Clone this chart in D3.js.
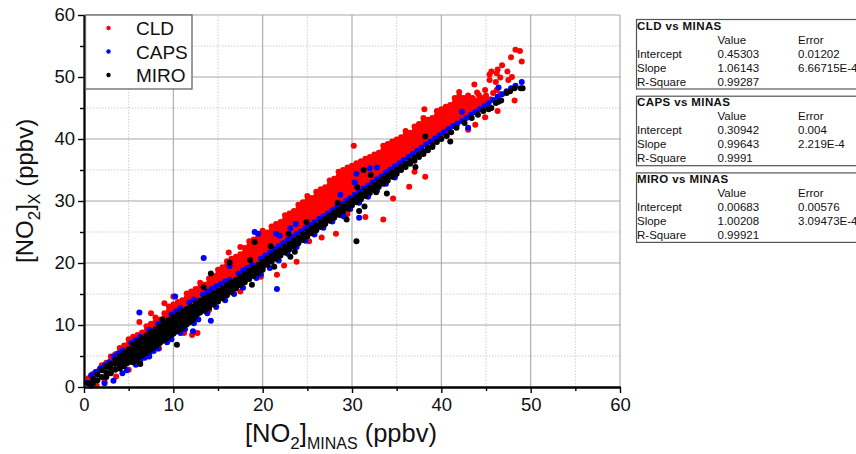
<!DOCTYPE html>
<html>
<head>
<meta charset="utf-8">
<script src="https://cdn.jsdelivr.net/npm/d3@7"></script>
<style>
  html, body { margin: 0; padding: 0; background: #fff; overflow: hidden; }
  text { font-family: "Liberation Sans", Arial, sans-serif; fill: #111; }
</style>
</head>
<body>
<div id="chart"></div>
<script>
// each column is [x, y, y, ...]
const cldColumns = [
  [0.5,1.4],[1,2.1,1.4],[1.5,2.5],[2,3.5,2.8],[2.5,3.9,3.2],[3,4.9,4.2],[3.5,5.3,4.6],[4,6.3,5.6],
  [4.5,6.7,6],[5,7.7,7,6.3],[5.5,8.1,7.4],[6,8.4,7.7],[6.5,8.8,8.1],[7,9.8,9.1,8.4],
  [7.5,10.2,9.5,8.8],[8,11.2,10.5,9.8],[8.5,10.9,10.2],[9,11.9,11.2,10.5],[9.5,13,12.3,11.6],
  [10,13.3,12.6,11.9],[10.5,13.7,13,12.3],[11,14,13.3,12.6],[11.5,15.1,14.4,13.7,13],[12,15.4,14.7,14],
  [12.5,15.8,15.1,14.4],[13,16.8,16.1,15.4,14.7],[13.5,16.5,15.8,15.1],[14,17.5,16.8,16.1,15.4],
  [14.5,17.9,17.2,16.5,15.8],[15,18.9,18.2,17.5,16.8,16.1],[15.5,19.3,18.6,17.9,17.2,16.5],[16,20.3,19.6,18.9,18.2,17.5,16.8],
  [16.5,20.7,20,19.3,18.6,17.9,17.2],[17,21,20.3,19.6,18.9,18.2],[17.5,21.4,20.7,20,19.3,18.6],[18,22.4,21.7,21,20.3,19.6,18.9],
  [18.5,23.5,22.8,22.1,21.4,20.7,20,19.3],[19,23.8,23.1,22.4,21.7,21,20.3,19.6],[19.5,24.2,23.5,22.8,22.1,21.4,20.7,20],[20,25.2,24.5,23.8,23.1,22.4,21.7,21],
  [20.5,24.9,24.2,23.5,22.8,22.1,21.4],[21,25.9,25.2,24.5,23.8,23.1,22.4,21.7],[21.5,26.3,25.6,24.9,24.2,23.5,22.8,22.1],[22,26.6,25.9,25.2,24.5,23.8,23.1],
  [22.5,27.7,27,26.3,25.6,24.9,24.2,23.5],[23,28,27.3,26.6,25.9,25.2,24.5,23.8],[23.5,28.4,27.7,27,26.3,25.6,24.9,24.2],[24,29.4,28.7,28,27.3,26.6,25.9,25.2],
  [24.5,29.8,29.1,28.4,27.7,27,26.3,25.6],[25,30.8,30.1,29.4,28.7,28,27.3,26.6,25.9],[25.5,30.5,29.8,29.1,28.4,27.7,27,26.3],[26,31.5,30.8,30.1,29.4,28.7,28,27.3],
  [26.5,31.9,31.2,30.5,29.8,29.1,28.4,27.7],[27,32.2,31.5,30.8,30.1,29.4,28.7,28],[27.5,33.3,32.6,31.9,31.2,30.5,29.8,29.1,28.4],[28,33.6,32.9,32.2,31.5,30.8,30.1,29.4,28.7],
  [28.5,34.7,34,33.3,32.6,31.9,31.2,30.5,29.8,29.1],[29,35,34.3,33.6,32.9,32.2,31.5,30.8,30.1],[29.5,35.4,34.7,34,33.3,32.6,31.9,31.2,30.5],[30,35.7,35,34.3,33.6,32.9,32.2,31.5,30.8],
  [30.5,36.1,35.4,34.7,34,33.3,32.6,31.9,31.2],[31,36.4,35.7,35,34.3,33.6,32.9,32.2],[31.5,36.8,36.1,35.4,34.7,34,33.3,32.6],[32,37.1,36.4,35.7,35,34.3,33.6,32.9],
  [32.5,37.5,36.8,36.1,35.4,34.7,34,33.3],[33,37.8,37.1,36.4,35.7,35,34.3,33.6],[33.5,38.9,38.2,37.5,36.8,36.1,35.4,34.7,34],[34,39.2,38.5,37.8,37.1,36.4,35.7,35],
  [34.5,39.6,38.9,38.2,37.5,36.8,36.1,35.4],[35,39.9,39.2,38.5,37.8,37.1,36.4,35.7],[35.5,40.3,39.6,38.9,38.2,37.5,36.8,36.1],[36,41.3,40.6,39.9,39.2,38.5,37.8,37.1],
  [36.5,41,40.3,39.6,38.9,38.2,37.5],[37,42,41.3,40.6,39.9,39.2,38.5,37.8],[37.5,42.4,41.7,41,40.3,39.6,38.9,38.2],[38,43.4,42.7,42,41.3,40.6,39.9,39.2],
  [38.5,43.1,42.4,41.7,41,40.3,39.6],[39,43.4,42.7,42,41.3,40.6,39.9],[39.5,44.5,43.8,43.1,42.4,41.7,41,40.3],[40,44.8,44.1,43.4,42.7,42,41.3,40.6],
  [40.5,45.2,44.5,43.8,43.1,42.4,41.7,41],[41,45.5,44.8,44.1,43.4,42.7,42],[41.5,46.6,45.9,45.2,44.5,43.8,43.1,42.4],[42,47.6,46.9,46.2,45.5,44.8,44.1,43.4],
  [42.5,46.6,45.9,45.2,44.5,43.8],[43,47,46.2,45.5,44.8,44.1],[43.5,46.6,45.9,45.2,44.5],[44,46.2,45.5,44.8],[44.5,46.6,45.9,45.2],[45,47,46.2,45.5]
];
const cldOutliers = [
  [48.3,54.4],[48.8,54.2],[47.8,53.2],[49,52.5],[46.8,51.9],[46.3,51.2],[45.6,50.9],[45.4,50.4],[46.2,50.6],[47.4,50.9],[47.9,50],[47.5,49.5],
  [45.4,49.5],[46.1,49.2],[46.6,49.9],[43.7,48.8],[44,47.5],[44.2,47.1],[44.9,47.9],[46.2,47.9],[48.2,46.2],[46.3,44.5],[44.9,43.5],[43.8,42.3],
  [43,41.5],[38.1,44.8],[38.2,33.9],[36.4,32.3],[37,34.7],[30.2,38.9],[33.5,27],[31.5,27.4],[28.2,24.7],[26.6,24.1],[34.6,30.4],[23.8,20.2],
  [22.4,19.6],[21.6,18.1],[16.2,21.7],[17.5,22.6],[45.8,47.4],[45.5,46.4],[46.6,47.2],[8.4,6.2],[7.8,6.4],[12.7,8.7],[12.1,8.4],[11.2,8.7],
  [14,12.4],[6.2,10.5],[7.5,11.9],[10,14.6],[9,13.5],[17.5,15.4],[19.8,17.8],[25.2,23.5],[29.5,27.9],[1.4,0.3],[2.3,0.9],[3.6,1.7],[5,2.8]
];
const capsColumns = [
  [0.3,0.7],[0.8,1.9,0.2],[1.3,2.4],[1.8,3],[2.3,3.5,0.6],[2.8,4],[3.3,4.9,1],[3.8,5.4],[4.3,5.9,2.2],[4.8,2.7],[5.3,7.1],[5.8,7.6,3.6],[6.3,8.1,4.2],[6.8,4.7],
  [7.3,9.2,5.2],[7.8,5.8],[8.3,10.2,6.2],[8.8,10.7],[9.3,7.2],[9.8,11.7,7.7],[10.3,12.2],[10.8,12.7,8.7],[11.3,9.3],[11.8,13.6],[12.3,14.1,10.3],[12.8,10.9],[13.3,14.9],[13.8,15.4,11.9],
  [14.3,15.8],[14.8,16.2,12.9],[15.3,16.6],[15.8,17,14],[16.3,17.3],[16.8,15],[17.3,18.3],[17.8,18.8,16],[18.3,19.2],[18.8,19.7],[19.3,17.6],[19.8,20.7,18.2],
  [20.3,21.2],[20.8,21.7,19.2],[21.3,22.2],[21.8,22.7,20.4],[22.3,23.2],[22.8,23.7,21.5],[23.3,24.2],[23.8,24.7,22.6],[24.3,25.1],[24.8,25.6,23.6],[25.3,26.1],[25.8,26.6,24.6],[26.3,27.1],[26.8,27.5,25.7],[27.3,28],
  [27.8,28.5,26.7],[28.3,29],[28.8,29.5,27.7],[29.3,30],[29.8,30.5,28.7],[30.3,31],[30.8,31.5,29.7],[31.3,32],[31.8,32.5,30.7],[32.3,33],[32.8,33.5,31.7],[33.3,34],
  [33.8,34.6,32.8],[34.3,35.1],[34.8,35.6,33.8],[35.3,36.1],[35.8,36.6],[36.3,37.1],[36.8,37.6],[37.3,38.1],[37.8,38.6],[38.3,39.1],[38.8,39.6],[39.3,40.1],[39.8,40.6],
  [40.3,41.1],[40.8,41.6],[41.3,42.1],[41.8,42.5],[42.3,42.9],[42.8,43.4],[43.3,43.9],[43.8,44.3],[44.3,44.8],[44.8,45.3],[45.3,45.8],[45.8,46.3],[46.3,46.8],[46.8,47.2],[47.3,47.7],[47.8,48.2]
];
const capsOutliers = [
  [49,49.2],[48.3,48.6],[46.4,48.3],[42.3,44.4],[43,41.8],[13.4,20.8],[21.6,15.8],[19.1,25],[19.5,24.7],[30.8,27.3],[30.5,34.4],[32,35.3],[32.8,35.4],
  [30.3,33],[28.7,31],[29.1,27.5],[23.1,25.6],[23.7,26.3],[21.5,24.7],[21.9,24.4],[16.3,19.5],[7.3,4.9],[6.6,4.8],[6.2,12],[14.2,10.7],[12.2,9],[10.2,14.6]
];
const miroColumns = [
  [0.5,0.6],[1,1.3,0.6],[1.5,2,1.1],[2,2.7,1.6],[2.5,3.3,2.3,1.6],[3,3.7,3,2.2],[3.5,4.4,3.7,2.8],[4,5,4.3,3.6,3],[4.5,5.5,4.8,4.1,3.4],[5,6.1,5.4,4.7,4],
  [5.5,6.8,6.1,5.4,4.7,4],[6,7.3,6.6,5.9,5.2,4.6],[6.5,7.8,7.1,6.4,5.7,5.1],[7,8.3,7.6,6.9,6.2,5.6],[7.5,8.8,8.1,7.4,6.7,6.1],[8,9.3,8.6,7.9,7.2,6.6],[8.5,9.8,9.1,8.4,7.7,7.1],[9,10.3,9.6,8.9,8.2,7.6],
  [9.5,10.8,10.1,9.4,8.7,8.1],[10,11.3,10.6,9.9,9.2,8.6],[10.5,11.7,11,10.3,9.6,9.1],[11,12.2,11.5,10.8,10.1,9.6],[11.5,12.6,11.9,11.2,10.5,10.1],[12,13,12.4,11.7,11,10.6],[12.5,13.5,12.8,12.1,11.5],[13,13.9,13.2,12.5,12],
  [4.25,4.7,4,3.3],[4.75,5.2,4.5,3.8],[5.25,5.7,5,4.3],[5.75,6.4,5.7,5,4.3],[6.25,6.9,6.2,5.5,4.9],[6.75,7.4,6.7,6,5.4],[7.25,7.9,7.2,6.5,5.9],[7.75,8.4,7.7,7,6.4],[8.25,8.9,8.2,7.5,6.9],[8.75,9.4,8.7,8,7.4],
  [9.25,9.9,9.2,8.5,7.9],[9.75,10.4,9.7,9,8.4],[10.25,10.8,10.1,9.4,8.9],[10.75,11.3,10.6,9.9,9.4],[11.25,11.8,11.1,10.4,9.9],[11.75,12.2,11.5,10.8,10.4],[12.25,12.6,12,11.4,10.9],[12.75,13.1,12.4,11.8],
  [13.5,14.3,13.6,12.9,12.3],[14,14.7,14,13.3,12.8],[14.5,15.1,14.5,13.9,13.3],[15,15.5,14.9,14.3,13.8],[15.5,15.9,15.3,14.8,14.3],[16,16.4,15.8,15.3,14.8],[16.5,16.9,16.3,15.8,15.3],[17,17.3,16.8,16.3,15.9],[17.5,17.7,17.2,16.8,16.4],[18,18.2,17.7,17.3,16.9],
  [18.5,18.7,18.2,17.8,17.4],[19,19.2,18.7,18.3,17.9],[19.5,19.7,19.2,18.8,18.4],[20,20.2,19.7,19.3,18.9],[20.5,20.7,20.2,19.7],[21,21.2,20.7,20.2],[21.5,21.7,21.2,20.7],[22,22.1,21.7,21.2],[22.5,22.6,22.2,21.7],[23,23.1,22.7,22.2],[23.5,23.6,23.2,22.7],[24,24.1,23.7,23.2],
  [24.5,24.6,24.2,23.7],[25,25.1,24.8,24.3],[25.5,25.6,25.3,24.8],[26,26.1,25.8,25.3],[26.5,26.6,26.3,25.8],[27,27.1,26.8,26.3],[27.5,27.6,27.3,26.8],[28,28.1,27.8,27.3],[28.5,28.6,28.3,27.8],[29,29.1,28.8,28.3],[29.5,29.6,29.3,28.8],[30,30.1,29.8,29.3],
  [30.5,30.6,30.3,29.8],[31,31.1,30.8,30.3],[31.5,31.6,31.3,30.8],[32,32.1,31.8,31.3],[32.5,32.6,32.3,31.8],[33,33.1,32.8,32.3],[33.5,33.6,33.3,32.8],[34,34.1,33.8,33.3],[34.5,34.6,34.3,33.9],[35,35,34.8,34.4],[35.5,35.5,35],[36,36,35.5],[36.5,36.5,36],[37,37,36.5],
  [37.5,37.5,37.1],[38,38,37.6],[38.5,38.5,38.2],[39,39,38.7],[39.5,39.5],[40,40],[40.6,40.5],[41.1,41.1],[41.7,41.8],[42.6,42.6],[43.4,43.4],[44.1,43.9],[44.7,44.5],[45.3,44.8],[45.6,45],[46.1,45.8],[46.4,46],[46.7,46.2],[47.3,47.4],[47.7,47.7],[48.2,48.2],[48.9,48.2],[49.1,48.2]
];
const miroOutliers = [
  [38.2,40.4],[41,39.6],[37.1,35.5],[30.5,23.5],[31.4,29.1],[30.8,28.4],[29.4,27],[31.3,35],[32.1,34.2],[30.6,32.2],[28.4,29.7],[24.9,26.6],[22.9,24.7],[20.9,22.7],[19.1,23.4],
  [18.6,20.5],[16.3,20.1],[14.2,18.3],[13.4,16.1],[18.8,16.5],[23.1,21],[23.6,21.8],[21.3,19.4],[32.7,31.4],[6.3,3.7],[10.4,6.8],[33.9,31.2],[8.8,10.9]
];

const seriesNames = ["CLD", "CAPS", "MIRO"];
const seriesColors = ["#ff0000", "#0000ff", "#000000"];
const xMajorTicks = [0, 10, 20, 30, 40, 50, 60];
const xMinorTicks = [5, 15, 25, 35, 45, 55];
const yMajorTicks = [0, 10, 20, 30, 40, 50, 60];
const yMinorTicks = [5, 15, 25, 35, 45, 55];

const fitTitles = ["CLD vs MINAS", "CAPS vs MINAS", "MIRO vs MINAS"];
const fitRows = ["Intercept", "Slope", "R-Square"];
const fitValues = [["0.45303", "1.06143", "0.99287"], ["0.30942", "0.99643", "0.9991"], ["0.00683", "1.00208", "0.99921"]];
const fitErrors = [["0.01202", "6.66715E-4", ""], ["0.004", "2.219E-4", ""], ["0.00576", "3.09473E-4", ""]];

const width = 856, height = 454;
const margins = {top: 15, right: 236, bottom: 67, left: 84};

const flatten = (columns, outliers) => {
  const pts = [];
  columns.forEach(c => c.slice(1).forEach(y => pts.push([c[0], y])));
  return pts.concat(outliers);
};
const seriesPoints = [
  flatten(cldColumns, cldOutliers),
  flatten(capsColumns, capsOutliers),
  flatten(miroColumns, miroOutliers)
];

const svg = d3.select("#chart").append("svg")
  .attr("width", width)
  .attr("height", height)
  .attr("viewBox", [0, 0, width, height])
  .style("display", "block");

const xScale = d3.scaleLinear().domain([0, 60]).range([margins.left, width - margins.right]);
const yScale = d3.scaleLinear().domain([0, 60]).range([height - margins.bottom, margins.top]);
const bottom = yScale(0), top_ = yScale(60), left = xScale(0), right = xScale(60);

// grid
const grid = svg.append("g");
grid.selectAll("line.xminor").data(xMinorTicks).join("line")
  .attr("x1", d => xScale(d)).attr("x2", d => xScale(d)).attr("y1", bottom).attr("y2", top_)
  .attr("stroke", "#cfcfcf").attr("stroke-width", 1).attr("stroke-dasharray", "1.5 1.5");
grid.selectAll("line.yminor").data(yMinorTicks).join("line")
  .attr("x1", left).attr("x2", right).attr("y1", d => yScale(d)).attr("y2", d => yScale(d))
  .attr("stroke", "#cfcfcf").attr("stroke-width", 1).attr("stroke-dasharray", "1.5 1.5");
grid.selectAll("line.xmajor").data(xMajorTicks.slice(1)).join("line")
  .attr("x1", d => xScale(d)).attr("x2", d => xScale(d)).attr("y1", bottom).attr("y2", top_)
  .attr("stroke", "#a8a8a8").attr("stroke-width", 1.1);
grid.selectAll("line.ymajor").data(yMajorTicks.slice(1)).join("line")
  .attr("x1", left).attr("x2", right).attr("y1", d => yScale(d)).attr("y2", d => yScale(d))
  .attr("stroke", "#a8a8a8").attr("stroke-width", 1.1);

// points, red first so black ends up on top
seriesPoints.forEach((pts, i) => {
  svg.append("g").selectAll("circle").data(pts).join("circle")
    .attr("cx", d => xScale(d[0]))
    .attr("cy", d => yScale(d[1]))
    .attr("r", 3)
    .attr("fill", seriesColors[i]);
});

// axes
const styleAxis = g => {
  g.selectAll("text").style("font-size", "18.5px").attr("fill", "#111");
  g.selectAll("line").attr("stroke", "#000").attr("stroke-width", 1.4);
  g.select(".domain").attr("stroke", "#000").attr("stroke-width", 1.8);
};
svg.append("g").attr("transform", `translate(0,${bottom})`)
  .call(d3.axisBottom(xScale).tickValues(xMinorTicks).tickSize(4).tickFormat("").tickSizeOuter(0))
  .call(styleAxis);
svg.append("g").attr("transform", `translate(0,${bottom})`)
  .call(d3.axisBottom(xScale).tickValues(xMajorTicks).tickSize(6).tickPadding(5).tickFormat(d3.format("d")).tickSizeOuter(0))
  .call(styleAxis);
svg.append("g").attr("transform", `translate(${left},0)`)
  .call(d3.axisLeft(yScale).tickValues(yMinorTicks).tickSize(4).tickFormat("").tickSizeOuter(0))
  .call(styleAxis);
svg.append("g").attr("transform", `translate(${left},0)`)
  .call(d3.axisLeft(yScale).tickValues(yMajorTicks).tickSize(6).tickPadding(3).tickFormat(d3.format("d")).tickSizeOuter(0))
  .call(styleAxis);

// axis titles
const xTitle = svg.append("text").attr("x", 245).attr("y", 442).style("font-size", "25.5px");
xTitle.append("tspan").text("[NO");
xTitle.append("tspan").attr("dy", 7).style("font-size", "17px").text("2");
xTitle.append("tspan").attr("dy", -7).text("]");
xTitle.append("tspan").attr("dy", 7).style("font-size", "16px").text("MINAS");
xTitle.append("tspan").attr("dy", -7).text(" (ppbv)");

const yTitle = svg.append("text")
  .attr("transform", "translate(33,263) rotate(-90)")
  .style("font-size", "24px");
yTitle.append("tspan").text("[NO");
yTitle.append("tspan").attr("dy", 7).style("font-size", "17px").text("2");
yTitle.append("tspan").attr("dy", -7).text("]");
yTitle.append("tspan").attr("dy", 7).style("font-size", "16px").text("X");
yTitle.append("tspan").attr("dy", -7).text(" (ppbv)");

// legend
const legend = svg.append("g");
legend.append("rect")
  .attr("x", 85.5).attr("y", 15).attr("width", 106.5).attr("height", 74)
  .attr("fill", "#fff").attr("stroke", "#666").attr("stroke-width", 1.3);
seriesNames.forEach((name, i) => {
  const ly = 28 + i * 23.5;
  legend.append("circle").attr("cx", 108.5).attr("cy", ly).attr("r", 2.2).attr("fill", seriesColors[i]);
  legend.append("text").attr("x", 136).attr("y", ly + 7).style("font-size", "19px").text(name);
});

// fit tables
fitTitles.forEach((title, i) => {
  const g = svg.append("g").attr("transform", `translate(0,${i * 76.7})`);
  g.append("rect")
    .attr("x", 636.5).attr("y", 19.5).attr("width", 240).attr("height", 69.5)
    .attr("fill", "#fff").attr("stroke", "#555").attr("stroke-width", 1.2);
  g.append("text").attr("x", 637).attr("y", 29.5).style("font-size", "11.5px").style("font-weight", "bold").style("letter-spacing", "0.4px").text(title);
  g.append("text").attr("x", 717.5).attr("y", 43.5).style("font-size", "11.5px").attr("fill", "#222").text("Value");
  g.append("text").attr("x", 798).attr("y", 43.5).style("font-size", "11.5px").attr("fill", "#222").text("Error");
  fitRows.forEach((row, j) => {
    const ry = 57.5 + j * 14;
    g.append("text").attr("x", 637).attr("y", ry).style("font-size", "11.5px").text(row);
    g.append("text").attr("x", 717.5).attr("y", ry).style("font-size", "11.5px").text(fitValues[i][j]);
    g.append("text").attr("x", 798).attr("y", ry).style("font-size", "11.5px").text(fitErrors[i][j]);
  });
});
</script>
</body>
</html>
